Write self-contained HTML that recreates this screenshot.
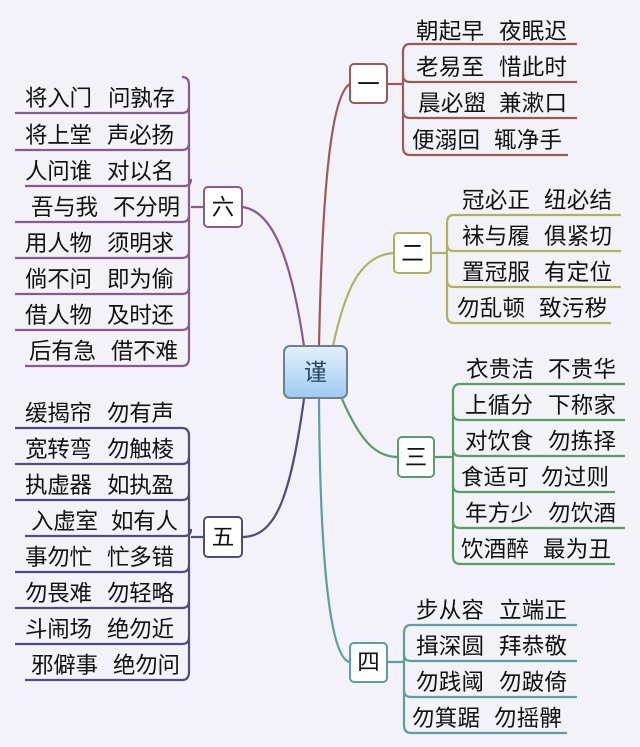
<!DOCTYPE html>
<html><head><meta charset="utf-8"><style>
html,body{margin:0;padding:0;background:#f3f2f8;}
svg{display:block;}
text{font-family:"Liberation Sans","Noto Sans CJK SC",sans-serif;font-size:22.5px;fill:#111;}
</style></head><body>
<svg width="640" height="747" viewBox="0 0 640 747" xmlns="http://www.w3.org/2000/svg">
<rect width="640" height="747" fill="#f3f2f8"/>
<g fill="none" stroke-width="2.2">
<path d="M319,346 C322,200 330,95 350,84" stroke="#9a5a5a"/>
<path d="M304,346 C290,250 270,210 242,207" stroke="#8a5a8a"/>
<path d="M333,346 C345,290 360,255 394,253" stroke="#b0b064"/>
<path d="M342,399 C360,440 375,457 398,457" stroke="#5e9a6e"/>
<path d="M304,399 C290,500 275,537 242,537" stroke="#4e4e7e"/>
<path d="M319,399 C320,560 330,660 350,662" stroke="#5e9e9e"/>

<g stroke="#9a5a5a">
<path d="M387,84 H403"/>
<path d="M577,44 H410 Q403,44 403,52 V147 Q403,155 410,155 H568"/>
<path d="M403,75 Q403,82 410,82 H577"/>
<path d="M403,111 Q403,118 410,118 H577"/>
</g>
<g stroke="#b0b064">
<path d="M431,253 H447"/>
<path d="M621,215 H454 Q447,215 447,223 V315 Q447,323 454,323 H611"/>
<path d="M447,244 Q447,251 454,251 H621"/>
<path d="M447,280 Q447,287 454,287 H621"/>
</g>
<g stroke="#5e9a6e">
<path d="M434,457 H453"/>
<path d="M625,384 H460 Q453,384 453,392 V556 Q453,564 460,564 H615"/>
<path d="M453,413 Q453,420 460,420 H625"/>
<path d="M453,449 Q453,456 460,456 H625"/>
<path d="M453,485 Q453,492 460,492 H615"/>
<path d="M453,521 Q453,528 460,528 H625"/>
</g>
<g stroke="#5e9e9e">
<path d="M387,662 H404"/>
<path d="M577,625 H411 Q404,625 404,633 V725 Q404,733 411,733 H567"/>
<path d="M404,654 Q404,661 411,661 H577"/>
<path d="M404,690 Q404,697 411,697 H577"/>
</g>
<g stroke="#8a5a8a">
<path d="M204,207 H191"/>
<path d="M182,77 Q189,77 189,85 V358 Q189,366 182,366 H25"/>
<path d="M15,113 H182 Q189,113 189,106"/>
<path d="M15,150 H182 Q189,150 189,143"/>
<path d="M25,186 H184 Q191,186 191,179"/>
<path d="M15,258 H182 Q189,258 189,251"/>
<path d="M15,222 H182 Q189,222 189,215"/>
<path d="M15,294 H182 Q189,294 189,287"/>
<path d="M15,330 H182 Q189,330 189,323"/>
</g>
<g stroke="#4e4e7e">
<path d="M204,537 H191"/>
<path d="M15,428 H182 Q189,428 189,436 V672 Q189,680 182,680 H25"/>
<path d="M15,464 H182 Q189,464 189,457"/>
<path d="M15,500 H182 Q189,500 189,493"/>
<path d="M25,536 H184 Q191,536 191,529"/>
<path d="M15,572 H182 Q189,572 189,565"/>
<path d="M15,608 H182 Q189,608 189,601"/>
<path d="M15,644 H182 Q189,644 189,637"/>
</g>
</g>

<defs><linearGradient id="g" x1="0" y1="0" x2="0" y2="1"><stop offset="0" stop-color="#e2f0fb"/><stop offset="1" stop-color="#9fcaf0"/></linearGradient></defs>
<rect x="284" y="346" width="63" height="52" rx="6" fill="url(#g)" stroke="#6f7f90" stroke-width="2"/>
<text x="315.5" y="380" text-anchor="middle" style="font-size:23px;fill:#2a4a6a">谨</text>
<g fill="#ffffff" stroke-width="2">
<rect x="350" y="64" width="37" height="39" rx="4" stroke="#9a5a5a"/>
<rect x="394" y="233" width="37" height="40" rx="4" stroke="#b0b064"/>
<rect x="398" y="437" width="36" height="40" rx="4" stroke="#5e9a6e"/>
<rect x="350" y="643" width="37" height="39" rx="4" stroke="#5e9e9e"/>
<rect x="204" y="187" width="38" height="40" rx="4" stroke="#8a5a8a"/>
<rect x="204" y="517" width="38" height="40" rx="4" stroke="#4e4e7e"/>
</g>
<g text-anchor="middle">
<text x="368.5" y="92">一</text>
<text x="412.5" y="261">二</text>
<text x="416" y="465">三</text>
<text x="368.5" y="670">四</text>
<text x="223" y="215">六</text>
<text x="223" y="545">五</text>
</g>

<g>
<text x="416" y="39" textLength="68">朝起早</text><text x="499" y="39" textLength="68">夜眠迟</text>
<text x="416" y="75" textLength="68">老易至</text><text x="499" y="75" textLength="68">惜此时</text>
<text x="418" y="111" textLength="68">晨必盥</text><text x="499" y="111" textLength="68">兼漱口</text>
<text x="412" y="148" textLength="68">便溺回</text><text x="494" y="148" textLength="68">辄净手</text>

<text x="462" y="208" textLength="68">冠必正</text><text x="544" y="208" textLength="68">纽必结</text>
<text x="462" y="244" textLength="68">袜与履</text><text x="544" y="244" textLength="68">俱紧切</text>
<text x="462" y="280" textLength="68">置冠服</text><text x="544" y="280" textLength="68">有定位</text>
<text x="457" y="316" textLength="68">勿乱顿</text><text x="539" y="316" textLength="68">致污秽</text>

<text x="466" y="377" textLength="68">衣贵洁</text><text x="548" y="377" textLength="68">不贵华</text>
<text x="465" y="413" textLength="68">上循分</text><text x="548" y="413" textLength="68">下称家</text>
<text x="465" y="449" textLength="68">对饮食</text><text x="548" y="449" textLength="68">勿拣择</text>
<text x="461" y="485" textLength="68">食适可</text><text x="541" y="485" textLength="68">勿过则</text>
<text x="465" y="521" textLength="68">年方少</text><text x="548" y="521" textLength="68">勿饮酒</text>
<text x="461" y="557" textLength="68">饮酒醉</text><text x="543" y="557" textLength="68">最为丑</text>

<text x="416" y="618" textLength="68">步从容</text><text x="499" y="618" textLength="68">立端正</text>
<text x="416" y="654" textLength="68">揖深圆</text><text x="499" y="654" textLength="68">拜恭敬</text>
<text x="416" y="690" textLength="68">勿践阈</text><text x="499" y="690" textLength="68">勿跛倚</text>
<text x="412" y="726" textLength="68">勿箕踞</text><text x="494" y="726" textLength="68">勿摇髀</text>

<text x="25" y="106" textLength="67">将入门</text><text x="108" y="106" textLength="67">问孰存</text>
<text x="25" y="143" textLength="67">将上堂</text><text x="107" y="143" textLength="67">声必扬</text>
<text x="25" y="179" textLength="67">人问谁</text><text x="107" y="179" textLength="67">对以名</text>
<text x="31" y="215" textLength="67">吾与我</text><text x="113" y="215" textLength="67">不分明</text>
<text x="25" y="251" textLength="67">用人物</text><text x="107" y="251" textLength="67">须明求</text>
<text x="25" y="287" textLength="67">倘不问</text><text x="107" y="287" textLength="67">即为偷</text>
<text x="25" y="323" textLength="67">借人物</text><text x="107" y="323" textLength="67">及时还</text>
<text x="29" y="359" textLength="67">后有急</text><text x="111" y="359" textLength="67">借不难</text>

<text x="25" y="421" textLength="67">缓揭帘</text><text x="107" y="421" textLength="67">勿有声</text>
<text x="25" y="457" textLength="67">宽转弯</text><text x="107" y="457" textLength="67">勿触棱</text>
<text x="25" y="493" textLength="67">执虚器</text><text x="107" y="493" textLength="67">如执盈</text>
<text x="31" y="529" textLength="67">入虚室</text><text x="111" y="529" textLength="67">如有人</text>
<text x="25" y="565" textLength="67">事勿忙</text><text x="107" y="565" textLength="67">忙多错</text>
<text x="25" y="601" textLength="67">勿畏难</text><text x="107" y="601" textLength="67">勿轻略</text>
<text x="25" y="637" textLength="67">斗闹场</text><text x="107" y="637" textLength="67">绝勿近</text>
<text x="31" y="673" textLength="67">邪僻事</text><text x="113" y="673" textLength="67">绝勿问</text>
</g>
</svg>
</body></html>
